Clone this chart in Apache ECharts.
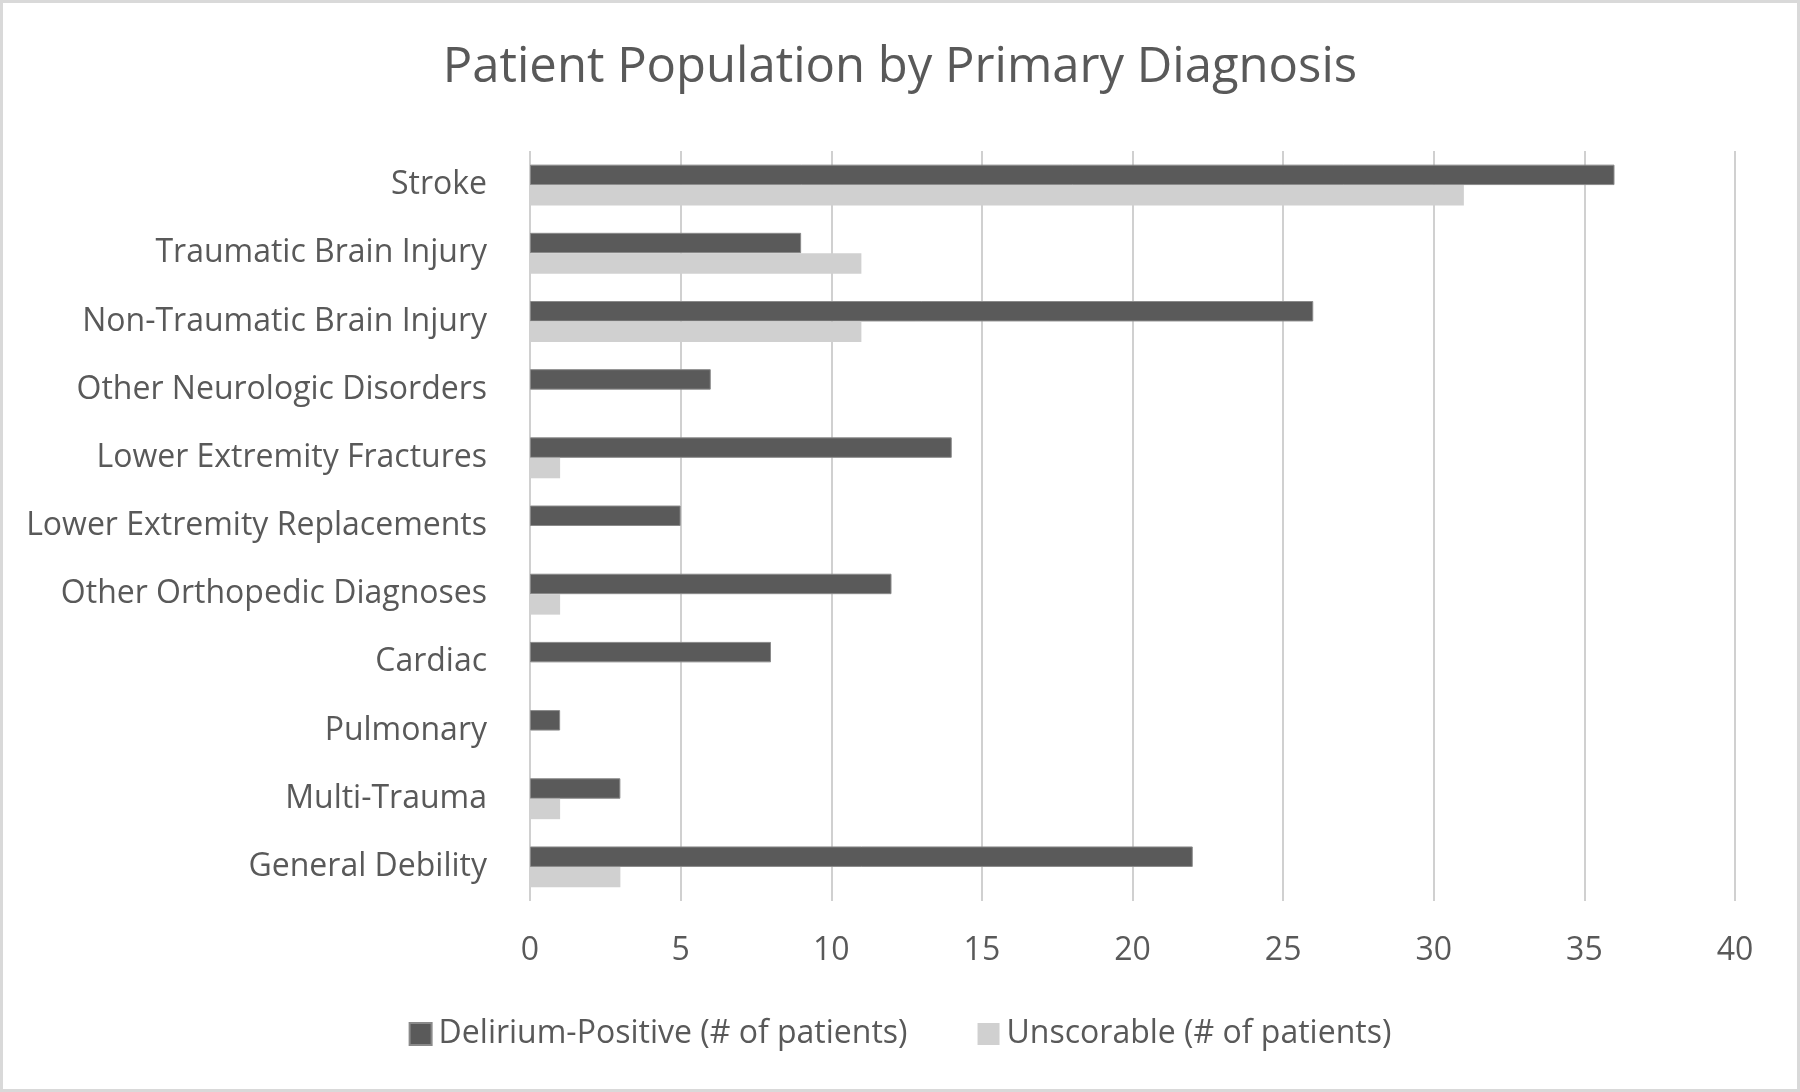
<!DOCTYPE html>
<html>
<head>
<meta charset="utf-8">
<script src="https://cdn.jsdelivr.net/npm/echarts@6/dist/echarts.min.js"></script>
<style>
  html, body { margin: 0; padding: 0; background: #fff; }
  #chart { width: 1800px; height: 1092px; box-sizing: border-box; border: 3px solid #d9d9d9; }
</style>
</head>
<body>
<div id="chart"></div>
<script>
// categories, top to bottom
const categories = [
  'Stroke',
  'Traumatic Brain Injury',
  'Non-Traumatic Brain Injury',
  'Other Neurologic Disorders',
  'Lower Extremity Fractures',
  'Lower Extremity Replacements',
  'Other Orthopedic Diagnoses',
  'Cardiac',
  'Pulmonary',
  'Multi-Trauma',
  'General Debility'
]
const deliriumPositive = [36, 9, 26, 6, 14, 5, 12, 8, 1, 3, 22]
const unscorable = [31, 11, 11, 0, 1, 0, 1, 0, 0, 1, 3]

const textColor = '#595959'
const font = 'Open Sans'

let myCharts = echarts.init(document.getElementById('chart'))
myCharts.setOption({
  animation: false,
  title: {
    text: 'Patient Population by Primary Diagnosis',
    left: 'center',
    top: 36,
    textStyle: { fontFamily: font, fontSize: 49, fontWeight: 'normal', color: textColor }
  },
  legend: {
    bottom: 34,
    left: 'center',
    itemWidth: 22,
    itemHeight: 22,
    itemGap: 70,
    icon: 'rect',
    textStyle: { fontFamily: font, fontSize: 32, color: textColor, padding: [0, 0, 0, 2] },
    data: ['Delirium-Positive (# of patients)', 'Unscorable (# of patients)']
  },
  grid: { left: 527, right: 62, top: 148, bottom: 188, containLabel: false },
  xAxis: {
    type: 'value',
    min: 0,
    max: 40,
    interval: 5,
    axisLine: { show: false },
    axisTick: { show: false },
    splitLine: { show: true, lineStyle: { color: '#d0d0d0', width: 2 } },
    axisLabel: { fontFamily: font, fontSize: 32, color: textColor, margin: 34 }
  },
  yAxis: {
    type: 'category',
    inverse: true,
    data: categories,
    axisLine: { show: false },
    axisTick: { show: false },
    axisLabel: { fontFamily: font, fontSize: 32, color: textColor, margin: 43 }
  },
  series: [
    {
      name: 'Delirium-Positive (# of patients)',
      type: 'bar',
      data: deliriumPositive,
      barGap: '0%',
      barCategoryGap: '40%',
      itemStyle: { color: '#5a5a5a', borderColor: '#8a8a8a', borderWidth: 1 }
    },
    {
      name: 'Unscorable (# of patients)',
      type: 'bar',
      data: unscorable,
      itemStyle: { color: '#d0d0d0' }
    }
  ]
})
</script>
</body>
</html>
